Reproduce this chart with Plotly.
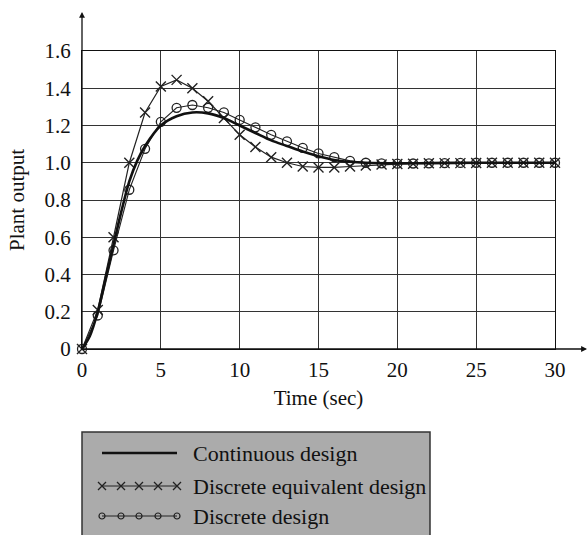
import plotly.graph_objects as go

# ---------------- data ----------------
time_cont = [0, 0.5, 1, 1.5, 2, 2.5, 3, 3.5, 4, 5, 6, 7, 8, 9, 10, 11, 12,
             13, 14, 15, 16, 17, 18, 20, 22, 25, 30]
plant_cont = [0, 0.07, 0.2, 0.38, 0.56, 0.74, 0.9, 1.01, 1.09, 1.2, 1.25,
              1.27, 1.265, 1.24, 1.2, 1.16, 1.12, 1.09, 1.06, 1.035, 1.015,
              1.005, 1.0, 0.997, 0.998, 1.0, 1.0]

time_disc = list(range(0, 31))
plant_equiv = [0, 0.21, 0.60, 1.0, 1.27, 1.41, 1.445, 1.40, 1.33, 1.24, 1.15,
               1.085, 1.03, 1.0, 0.98, 0.975, 0.975, 0.98, 0.985, 0.99, 0.993,
               0.995, 0.997, 0.998, 0.998, 0.999, 1.0, 1.0, 1.0, 1.0, 1.0]
plant_disc = [0, 0.18, 0.53, 0.855, 1.075, 1.22, 1.295, 1.31, 1.295, 1.27,
              1.23, 1.19, 1.15, 1.115, 1.08, 1.05, 1.03, 1.01, 1.0, 0.997,
              0.995, 0.996, 0.997, 0.998, 0.999, 1.0, 1.0, 1.0, 1.0, 1.0, 1.0]

x_ticks = [0, 5, 10, 15, 20, 25, 30]
y_ticks = [0, 0.2, 0.4, 0.6, 0.8, 1.0, 1.2, 1.4, 1.6]
y_tick_text = ["0", "0.2", "0.4", "0.6", "0.8", "1.0", "1.2", "1.4", "1.6"]

legend_names = ["Continuous design", "Discrete equivalent design", "Discrete design"]

# ---------------- styling ----------------
W, H = 588, 535
FONT = "Liberation Serif"
INK = "#111111"
GRID = "#333333"
TICK_SIZE = 21
LEG_SIZE = 22

# plot area in pixels
PL, PR, PT, PB = 82, 555, 51, 349

fig = go.Figure()

fig.add_trace(go.Scatter(
    x=time_disc, y=plant_equiv, mode="lines+markers", name=legend_names[1],
    line=dict(color="#222", width=1.2),
    marker=dict(symbol="x-thin-open", size=10, line=dict(color="#222", width=1.4)),
    xaxis="x", yaxis="y", showlegend=False, cliponaxis=False))
fig.add_trace(go.Scatter(
    x=time_disc, y=plant_disc, mode="lines+markers", name=legend_names[2],
    line=dict(color="#222", width=1.1),
    marker=dict(symbol="circle-open", size=9, color="#222",
                line=dict(color="#222", width=1.3)),
    xaxis="x", yaxis="y", showlegend=False, cliponaxis=False))
fig.add_trace(go.Scatter(
    x=time_cont, y=plant_cont, mode="lines", name=legend_names[0],
    line=dict(color=INK, width=2.6, shape="spline", smoothing=0.8),
    xaxis="x", yaxis="y", showlegend=False))

# ---------------- custom legend (pixel overlay axes) ----------------
leg_x = [102, 121, 139, 158, 177]
leg_rows = [453, 486, 516]
text_x = 191

fig.add_shape(type="rect", xref="x2", yref="y2", x0=82, x1=430, y0=432, y1=545,
              fillcolor="#ababab", line=dict(color="#333", width=1.5), layer="below")

fig.add_trace(go.Scatter(x=[leg_x[0], leg_x[-1]], y=[leg_rows[0]] * 2, mode="lines",
                         line=dict(color=INK, width=2.4), xaxis="x2", yaxis="y2",
                         showlegend=False, hoverinfo="skip"))
fig.add_trace(go.Scatter(x=leg_x, y=[leg_rows[1]] * 5, mode="lines+markers",
                         line=dict(color="#222", width=1),
                         marker=dict(symbol="x-thin-open", size=8,
                                     line=dict(color="#222", width=1.3)),
                         xaxis="x2", yaxis="y2", showlegend=False, hoverinfo="skip"))
fig.add_trace(go.Scatter(x=leg_x, y=[leg_rows[2]] * 5, mode="lines+markers",
                         line=dict(color="#222", width=1),
                         marker=dict(symbol="circle-open", size=6, color="#222",
                                     line=dict(color="#222", width=1.2)),
                         xaxis="x2", yaxis="y2", showlegend=False, hoverinfo="skip"))
for name, ry in zip(legend_names, leg_rows):
    fig.add_annotation(x=text_x, y=ry, xref="x2", yref="y2", text=name,
                       showarrow=False, xanchor="left", yanchor="middle",
                       font=dict(family=FONT, size=LEG_SIZE, color=INK))

# axis arrows
fig.add_annotation(x=PL, y=12, xref="x2", yref="y2", ax=PL, ay=PB, axref="x2", ayref="y2",
                   text="", showarrow=True, arrowhead=2, arrowsize=0.9, arrowwidth=1.3,
                   arrowcolor=INK)
fig.add_annotation(x=587, y=PB, xref="x2", yref="y2", ax=PL, ay=PB, axref="x2", ayref="y2",
                   text="", showarrow=True, arrowhead=2, arrowsize=0.9, arrowwidth=1.3,
                   arrowcolor=INK)

fig.update_layout(
    width=W, height=H,
    margin=dict(l=0, r=0, t=0, b=0),
    paper_bgcolor="white", plot_bgcolor="rgba(0,0,0,0)",
    font=dict(family=FONT, size=TICK_SIZE, color=INK),
    xaxis=dict(domain=[PL / W, PR / W], range=[0, 30], tickvals=x_ticks,
               showgrid=True, gridcolor=GRID, gridwidth=1.3, zeroline=False,
               showline=True, linecolor=INK, linewidth=1.3, mirror=True,
               ticks="outside", ticklen=2, tickcolor="rgba(0,0,0,0)",
               tickfont=dict(family=FONT, size=TICK_SIZE, color=INK),
               title=dict(text="Time (sec)", standoff=8,
                          font=dict(family=FONT, size=TICK_SIZE, color=INK)),
               automargin=False, anchor="y", fixedrange=True),
    yaxis=dict(domain=[(H - PB) / H, (H - PT) / H], range=[0, 1.6],
               tickvals=y_ticks, ticktext=y_tick_text,
               showgrid=True, gridcolor=GRID, gridwidth=1.3, zeroline=False,
               showline=True, linecolor=INK, linewidth=1.3, mirror=True,
               ticks="outside", ticklen=6, tickcolor="rgba(0,0,0,0)",
               tickfont=dict(family=FONT, size=TICK_SIZE, color=INK),
               title=dict(text="Plant output", standoff=14,
                          font=dict(family=FONT, size=TICK_SIZE, color=INK)),
               automargin=False, anchor="x", fixedrange=True),
    xaxis2=dict(domain=[0, 1], range=[0, W], visible=False, anchor="y2",
                fixedrange=True),
    yaxis2=dict(domain=[0, 1], range=[H, 0], visible=False, anchor="x2",
                fixedrange=True),
)

fig.write_html("out.html", config={"displayModeBar": False},
               post_script="document.body.style.margin='0';")
